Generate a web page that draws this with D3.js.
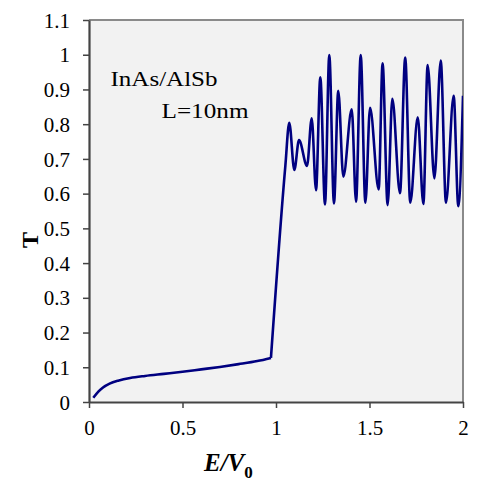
<!DOCTYPE html>
<html>
<head>
<meta charset="utf-8">
<script src="https://cdn.jsdelivr.net/npm/d3@7"></script>
<style>
  body { margin: 0; background: #fff; }
  text { font-family: "Times New Roman", "Liberation Serif", serif; fill: #000; }
</style>
</head>
<body>
<div id="chart"></div>
<script>
var width = 477;
var height = 484;

// low-energy branch (below the barrier), E/V0 vs T
var lowE = [0.023, 0.05, 0.075, 0.11, 0.16, 0.22, 0.3, 0.4, 0.5, 0.6, 0.7, 0.8, 0.9, 0.973];
var lowT = [0.012, 0.030, 0.042, 0.053, 0.062, 0.069, 0.075, 0.081, 0.087, 0.094, 0.101, 0.109, 0.118, 0.127];

// above the barrier: oscillating transmission (peaks and valleys)
var highE = [0.973, 1.05, 1.071, 1.098, 1.123, 1.166, 1.191, 1.214, 1.237, 1.262, 1.285, 1.310,
  1.333, 1.360, 1.405, 1.428, 1.453, 1.478, 1.503, 1.549, 1.570, 1.597, 1.622, 1.663,
  1.691, 1.718, 1.758, 1.788, 1.811, 1.847, 1.881, 1.909, 1.950, 1.975, 2.0];
var highT = [0.127, 0.68, 0.804, 0.668, 0.754, 0.680, 0.817, 0.610, 0.935, 0.569, 0.999, 0.572,
  0.896, 0.649, 0.843, 0.577, 0.999, 0.574, 0.847, 0.612, 0.975, 0.567, 0.873, 0.601,
  0.992, 0.574, 0.820, 0.570, 0.970, 0.644, 0.983, 0.574, 0.882, 0.564, 0.882];

var xTicks = [0, 0.5, 1, 1.5, 2];
var yTicks = [0, 0.1, 0.2, 0.3, 0.4, 0.5, 0.6, 0.7, 0.8, 0.9, 1, 1.1];

var plotLeft = 89, plotRight = 463, plotTop = 20, plotBottom = 402;

var svg = d3.select("#chart").append("svg")
  .attr("width", width)
  .attr("height", height);

var xScale = d3.scaleLinear().domain([0, 2]).range([plotLeft, plotRight]);
var yScale = d3.scaleLinear().domain([0, 1.1]).range([plotBottom, plotTop]);

// plot background
svg.append("rect")
  .attr("x", plotLeft).attr("y", plotTop)
  .attr("width", plotRight - plotLeft).attr("height", plotBottom - plotTop)
  .attr("fill", "#f2f2f2");

// top and right frame
svg.append("path")
  .attr("d", "M" + plotLeft + "," + plotTop + "H" + plotRight + "V" + plotBottom)
  .attr("fill", "none")
  .attr("stroke", "#8a8a8a")
  .attr("stroke-width", 2);

svg.append("clipPath").attr("id", "clip")
  .append("rect")
  .attr("x", plotLeft).attr("y", plotTop - 2)
  .attr("width", plotRight - plotLeft).attr("height", plotBottom - plotTop + 2);

var lowData = lowE.map(function (e, i) { return [e, lowT[i]]; });
var highData = highE.map(function (e, i) { return [e, highT[i]]; });

var line = d3.line()
  .x(function (d) { return xScale(d[0]); })
  .y(function (d) { return yScale(d[1]); })
  .curve(d3.curveMonotoneX);

var curves = svg.append("g").attr("clip-path", "url(#clip)");
[lowData, highData].forEach(function (data) {
  curves.append("path")
    .datum(data)
    .attr("d", line)
    .attr("fill", "none")
    .attr("stroke", "#000080")
    .attr("stroke-width", 2.6)
    .attr("stroke-linejoin", "round");
});

// axes
var xAxis = d3.axisBottom(xScale).tickValues(xTicks).tickSize(6).tickSizeOuter(0)
  .tickFormat(function (d) { return String(d); });
var yAxis = d3.axisLeft(yScale).tickValues(yTicks).tickSize(6).tickSizeOuter(0)
  .tickFormat(function (d) { return String(+d.toFixed(1)); });

var gx = svg.append("g")
  .attr("transform", "translate(0," + plotBottom + ")")
  .call(xAxis);
gx.select(".domain").attr("stroke", "#444").attr("stroke-width", 2.2);
gx.selectAll(".tick line").attr("stroke", "#444").attr("stroke-width", 1.5);
gx.selectAll(".tick text")
  .attr("font-family", "'Times New Roman', 'Liberation Serif', serif")
  .attr("font-size", 21)
  .attr("fill", "#000")
  .attr("dy", null)
  .attr("y", 33);

var gy = svg.append("g")
  .attr("transform", "translate(" + plotLeft + ",0)")
  .call(yAxis);
gy.select(".domain").attr("stroke", "#444").attr("stroke-width", 2.2);
gy.selectAll(".tick line").attr("stroke", "#444").attr("stroke-width", 1.5);
gy.selectAll(".tick text")
  .attr("font-family", "'Times New Roman', 'Liberation Serif', serif")
  .attr("font-size", 21)
  .attr("fill", "#000")
  .attr("x", -19)
  .attr("dy", "0.34em");

// inset labels
svg.append("text")
  .attr("x", 110.5).attr("y", 86)
  .attr("font-size", 22)
  .attr("textLength", 107)
  .attr("lengthAdjust", "spacingAndGlyphs")
  .text("InAs/AlSb");
svg.append("text")
  .attr("x", 161.5).attr("y", 117.5)
  .attr("font-size", 22)
  .attr("textLength", 87)
  .attr("lengthAdjust", "spacingAndGlyphs")
  .text("L=10nm");

// axis titles
svg.append("text")
  .attr("transform", "translate(38,240) rotate(-90)")
  .attr("text-anchor", "middle")
  .attr("font-size", 24)
  .attr("font-weight", "bold")
  .text("T");

var xt = svg.append("text")
  .attr("x", 204).attr("y", 471)
  .attr("font-size", 25)
  .attr("font-weight", "bold")
  .attr("font-style", "italic");
xt.append("tspan").text("E/V");
xt.append("tspan")
  .attr("font-size", 17)
  .attr("font-style", "normal")
  .attr("dy", 7)
  .text("0");
</script>
</body>
</html>
